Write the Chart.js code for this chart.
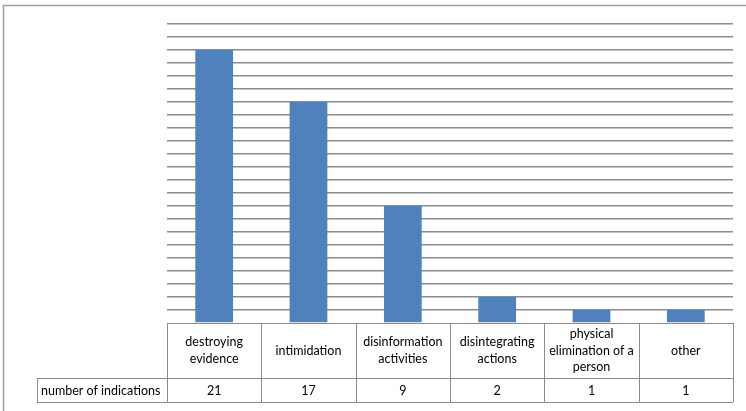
<!DOCTYPE html>
<html>
<head>
<meta charset="utf-8">
<script src="https://cdn.jsdelivr.net/npm/chart.js@4.4.1/dist/chart.umd.min.js"></script>
<style>
  html, body { margin: 0; padding: 0; background: #fff; }
  #wrap { width: 746px; height: 411px; position: relative; }
</style>
</head>
<body>
<div id="wrap"><canvas id="chart"></canvas></div>
<script>
// data
const categories = [
    ['destroying', 'evidence'],
    ['intimidation'],
    ['disinformation', 'activities'],
    ['disintegrating', 'actions'],
    ['physical', 'elimination of a', 'person'],
    ['other']
];
const seriesName = 'number of indications';
const values = [21, 17, 9, 2, 1, 1];

const FONT = '12.5px Lato, "Open Sans", sans-serif';
const LINE = '#8c8c8c';

// draws the frame and the data table under the bars
const dataTable = {
    id: 'dataTable',
    afterDraw(chart) {
        const ctx = chart.ctx;
        const area = chart.chartArea;
        const xs = chart.scales.x;
        const n = categories.length;
        const colW = (area.right - area.left) / n;
        const top = area.bottom;
        const mid = top + 55;
        const bottom = mid + 24;
        const labelLeft = 37;

        ctx.save();
        ctx.strokeStyle = '#a0a0a0';
        ctx.lineWidth = 1.5;
        ctx.beginPath();
        ctx.moveTo(3.5, chart.height + 5);
        ctx.lineTo(3.5, 5.5);
        ctx.lineTo(chart.width + 5, 5.5);
        ctx.stroke();

        ctx.strokeStyle = LINE;
        ctx.lineWidth = 1;
        ctx.beginPath();
        // horizontal lines
        ctx.moveTo(area.left, top + 0.5); ctx.lineTo(area.right, top + 0.5);
        ctx.moveTo(labelLeft, mid + 0.5); ctx.lineTo(area.right, mid + 0.5);
        ctx.moveTo(labelLeft, bottom + 0.5); ctx.lineTo(area.right, bottom + 0.5);
        ctx.moveTo(labelLeft + 0.5, mid); ctx.lineTo(labelLeft + 0.5, bottom);
        for (let i = 0; i <= n; i++) {
            const x = Math.round(area.left + i * colW) + 0.5;
            ctx.moveTo(x, top); ctx.lineTo(x, bottom);
        }
        ctx.stroke();

        ctx.fillStyle = '#000';
        ctx.font = FONT;
        ctx.textAlign = 'center';
        ctx.textBaseline = 'middle';
        const lh = 16.3;
        categories.forEach((lines, i) => {
            const cx = xs.getPixelForValue(i);
            const cy = (top + mid) / 2;
            lines.forEach((t, k) => {
                ctx.fillText(t, cx, cy + (k - (lines.length - 1) / 2) * lh);
            });
            ctx.fillText(String(values[i]), cx, (mid + bottom) / 2 + 1);
        });
        ctx.textAlign = 'left';
        ctx.fillText(seriesName, labelLeft + 4, (mid + bottom) / 2 + 1);
        ctx.restore();
    }
};

new Chart(document.getElementById('chart'), {
    type: 'bar',
    data: {
        labels: categories.map(c => c.join(' ')),
        datasets: [{
            label: seriesName,
            data: values,
            backgroundColor: '#4f81bd',
            borderWidth: 0,
            barPercentage: 0.4,
            categoryPercentage: 1
        }]
    },
    options: {
        responsive: true,
        maintainAspectRatio: false,
        animation: false,
        layout: { padding: { left: 167, right: 13, top: 24, bottom: 88 } },
        plugins: { legend: { display: false }, tooltip: { enabled: false } },
        scales: {
            x: { display: false },
            y: {
                min: 0,
                max: 23,
                afterFit(scale) { scale.width = 0; },
                ticks: { display: false, stepSize: 1 },
                border: { display: false },
                grid: {
                    drawTicks: false,
                    color: ctx => ctx.tick.value === 0 ? 'rgba(0,0,0,0)' : '#8c8c8c',
                    lineWidth: 1.5
                }
            }
        }
    },
    plugins: [dataTable]
});
</script>
</body>
</html>
